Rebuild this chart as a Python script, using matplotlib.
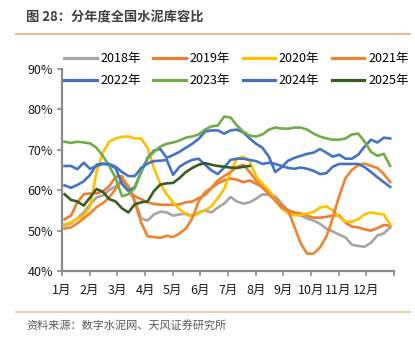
import numpy as np
import matplotlib
matplotlib.use('Agg')
import matplotlib.pyplot as plt
from matplotlib.lines import Line2D

plt.rcParams['font.family'] = ['Noto Sans CJK SC', 'DejaVu Sans']

# weekly cement inventory-to-capacity ratio (%)
y2018 = [51.3, 51.8, 53.0, 54.5, 56.5, 58.2, 58.7, 60.0, 61.0, 62.0, 61.0, 57.5, 53.0,
         52.5, 54.0, 54.7, 54.5, 53.7, 54.0, 54.2, 53.7, 54.5, 55.0, 54.5, 55.7, 56.7,
         58.3, 57.2, 56.7, 57.0, 57.9, 59.0, 58.8, 58.5, 56.7, 55.0, 54.3, 53.7, 53.0,
         52.5, 51.7, 50.5, 49.8, 49.0, 48.3, 46.5, 46.2, 46.0, 47.0, 48.8, 49.3, 50.8]
y2019 = [52.8, 53.7, 57.0, 59.0, 59.2, 59.2, 59.7, 61.0, 63.3, 63.5, 60.0, 58.5, 57.8,
         57.0, 56.6, 56.4, 56.4, 56.4, 56.5, 57.0, 57.2, 58.0, 58.8, 60.5, 61.7, 62.4,
         62.9, 62.6, 62.0, 62.4, 61.6, 60.8, 59.8, 57.8, 56.0, 55.0, 54.5, 54.2, 53.7,
         53.2, 53.2, 53.4, 53.7, 53.8, 52.0, 51.0, 50.8, 50.3, 50.0, 50.6, 51.4, 51.2]
y2020 = [51.5, 52.0, 53.0, 53.7, 56.0, 64.5, 69.3, 72.0, 72.8, 73.2, 73.3, 72.8, 72.8,
         70.5, 65.5, 61.5, 59.0, 57.0, 55.3, 54.0, 53.5, 54.3, 55.0, 56.0, 58.0, 60.3,
         64.5, 67.8, 68.3, 67.2, 63.5, 61.6, 60.0, 57.5, 55.5, 54.3, 53.8, 53.8, 54.2,
         54.6, 55.7, 56.0, 55.0, 53.4, 52.2, 52.2, 52.8, 54.0, 54.5, 54.2, 54.0, 51.5]
y2021 = [50.5, 50.8, 51.8, 53.0, 54.3, 55.8, 56.8, 58.2, 60.3, 62.8, 61.0, 57.0, 52.0,
         48.6, 48.4, 48.2, 48.7, 48.4, 49.3, 50.5, 53.0, 57.2, 59.5, 60.6, 62.4, 63.5,
         64.5, 65.8, 66.3, 64.5, 62.4, 60.6, 59.0, 57.4, 55.7, 55.0, 51.0, 46.8, 44.3,
         44.3, 45.8, 48.5, 53.0, 58.5, 63.0, 65.0, 66.2, 66.6, 66.0, 65.5, 64.0, 62.0]
y2022 = [61.2, 60.6, 61.3, 62.2, 63.8, 66.3, 66.6, 66.2, 65.5, 61.5, 59.8, 60.8, 64.5,
         68.0, 69.8, 70.2, 68.0, 68.7, 69.5, 70.5, 71.5, 72.7, 74.5, 74.8, 74.8, 74.0,
         74.8, 75.0, 74.3, 72.8, 71.5, 70.5, 68.3, 64.5, 65.7, 67.3, 68.0, 68.5, 69.0,
         69.3, 70.2, 69.3, 68.3, 68.8, 67.8, 67.8, 68.8, 70.8, 72.5, 71.8, 73.0, 72.8]
y2023 = [72.0, 71.7, 72.0, 71.8, 71.6, 70.5, 68.5, 66.0, 63.0, 58.5, 59.0, 60.5, 64.5,
         67.8, 69.5, 70.8, 71.5, 71.8, 72.3, 73.0, 73.3, 73.8, 75.0, 75.8, 76.0, 78.2,
         78.0, 76.0, 74.5, 73.5, 73.3, 73.8, 75.0, 75.5, 75.3, 75.2, 75.5, 75.5, 75.0,
         74.0, 73.3, 72.8, 72.5, 72.5, 72.8, 73.8, 74.0, 72.0, 69.5, 68.5, 69.0, 66.0]
y2024 = [66.0, 66.0, 65.2, 66.8, 65.3, 66.0, 66.5, 66.5, 65.8, 64.5, 63.5, 63.5, 65.5,
         66.6, 67.2, 67.3, 67.5, 63.8, 65.8, 66.8, 67.5, 67.8, 66.3, 64.9, 64.0, 65.6,
         67.5, 67.8, 67.8, 67.5, 67.2, 66.5, 66.8, 66.5, 66.0, 65.5, 65.3, 65.6, 65.3,
         64.8, 64.0, 64.2, 65.8, 66.5, 66.5, 66.5, 66.5, 65.7, 64.5, 63.2, 62.0, 60.8]
y2025 = [59.0, 57.6, 57.2, 56.2, 58.2, 60.3, 59.6, 57.8, 57.2, 55.5, 54.5, 56.5, 57.0,
         57.2, 59.8, 61.4, 61.7, 61.8, 63.0, 64.5, 65.5, 66.3, 66.7, 66.3, 66.0, 65.8,
         65.6, 65.5, 65.8, 66.0]

years = ['2018年', '2019年', '2020年', '2021年', '2022年', '2023年', '2024年', '2025年']
series = [y2018, y2019, y2020, y2021, y2022, y2023, y2024, y2025]
colors = ['#A5A5A5', '#ED7D31', '#FFC000', '#F0832E', '#4472C4', '#70AD47', '#4472C4', '#385D21']
months = ['1月', '2月', '3月', '4月', '5月', '6月', '7月', '8月', '9月', '10月', '11月', '12月']

fig = plt.figure(figsize=(4.15, 3.42), dpi=100)
ax = fig.add_axes([62 / 415, 71 / 342, 332 / 415, 202 / 342])

for name, vals, c in zip(years, series, colors):
    weeks = np.arange(1, len(vals) + 1)
    x = (weeks - 0.6) / 52 * 12
    ax.plot(x, vals, color=c, lw=1.9, label=name, solid_joinstyle='round')

ax.set_xlim(0, 12)
ax.set_ylim(40, 90)
ax.set_xticks(np.arange(0, 13))
ax.set_xticklabels(months + [''])
ax.set_yticks(np.arange(40, 91, 10))
ax.set_yticklabels([f'{v}%' for v in range(40, 91, 10)])

for s in ['top', 'right']:
    ax.spines[s].set_visible(False)
for s in ['left', 'bottom']:
    ax.spines[s].set_color('#8C8C8C')
    ax.spines[s].set_linewidth(1.6)
ax.tick_params(axis='both', color='#8C8C8C', width=1.2, length=3.5,
               labelsize=9, labelcolor='#1A1A1A')
ax.tick_params(axis='x', pad=6)
ax.tick_params(axis='y', pad=3)

# legend fills row by row like the original: reorder for matplotlib's column-first fill
order = [0, 4, 1, 5, 2, 6, 3, 7]
handles = [Line2D([], [], color=colors[i], lw=2.3) for i in order]
labels = [years[i] for i in order]
leg = fig.legend(handles, labels, loc='upper left', bbox_to_anchor=(64 / 415, 1 - 52 / 342),
                 ncol=4, frameon=False, fontsize=9, handlelength=2.6,
                 columnspacing=1.0, handletextpad=0.3, labelspacing=0.75,
                 borderaxespad=0, borderpad=0)

# title and source
fig.text(26 / 415, 1 - 17 / 342, '图 28：分年度全国水泥库容比', fontsize=9.5,
         fontweight='bold', color='#404040', va='center', ha='left')
fig.add_artist(Line2D([16 / 415, 410 / 415], [1 - 34 / 342, 1 - 34 / 342],
                      color='#F6B07A', lw=1.3))
fig.add_artist(Line2D([16 / 415, 410 / 415], [1 - 312 / 342, 1 - 312 / 342],
                      color='#F8C49C', lw=1.3))
fig.text(26 / 415, 1 - 325 / 342, '资料来源：数字水泥网、天风证券研究所', fontsize=8,
         color='#595959', va='center', ha='left')

fig.savefig('out.png', dpi=100)
